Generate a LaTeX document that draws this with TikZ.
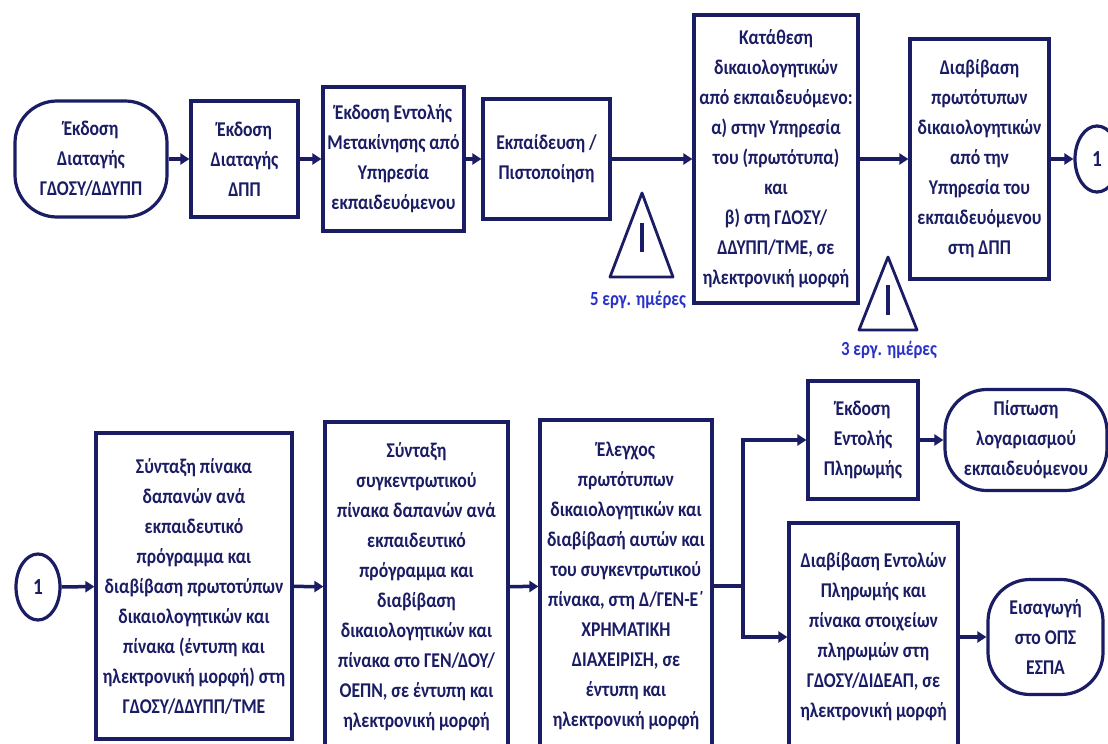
\documentclass[tikz,border=0pt]{standalone}
\usepackage{fontspec}
\setmainfont[FakeStretch=0.84]{Carlito}
\usetikzlibrary{arrows.meta,shapes.geometric}
\definecolor{navy}{RGB}{26,28,100}
\definecolor{dayblue}{RGB}{40,50,200}

\begin{document}
\begin{tikzpicture}[x=1pt,y=-1pt,
  box/.style={draw=navy, line width=3.2pt, fill=white, text=navy, align=center,
    inner sep=0pt, font=\bfseries\fontsize{21}{30}\selectfont},
  term/.style={box, rounded corners=42pt},
  conn/.style={box, ellipse, minimum width=44pt, minimum height=66pt,
    font=\bfseries\fontsize{23}{26}\selectfont},
  flow/.style={navy, line width=3.5pt, -{Triangle[length=9pt,width=11pt]}},
  warn/.style={navy, line width=2.8pt, line join=round},
  days/.style={text=dayblue, font=\bfseries\fontsize{20}{22}\selectfont}]

\fill[white] (0,0) rectangle (1108,744);
\useasboundingbox (0,0) rectangle (1108,744);

\node[term, minimum width=152pt, minimum height=116pt] (diat) at (91,159)
  {Έκδοση\\Διαταγής\\ΓΔΟΣΥ/ΔΔΥΠΠ};
\node[box, minimum width=107pt, minimum height=116pt] (dpp) at (244.5,159)
  {Έκδοση\\Διαταγής\\ΔΠΠ};
\node[box, minimum width=141pt, minimum height=144pt] (entoli) at (393.5,159)
  {Έκδοση Εντολής\\Μετακίνησης από\\Υπηρεσία\\εκπαιδευόμενου};
\node[box, minimum width=127pt, minimum height=120pt] (ekp) at (546.5,159)
  {Εκπαίδευση /\\Πιστοποίηση};
\node[box, minimum width=164pt, minimum height=288pt] (katath) at (776,159)
  {Κατάθεση\\δικαιολογητικών\\από εκπαιδευόμενο:\\α) στην Υπηρεσία\\του (πρωτότυπα)\\και\\β) στη ΓΔΟΣΥ/\\ΔΔΥΠΠ/ΤΜΕ, σε\\ηλεκτρονική μορφή};
\node[box, minimum width=139pt, minimum height=240pt] (diavib) at (979.5,159)
  {Διαβίβαση\\πρωτότυπων\\δικαιολογητικών\\από την\\Υπηρεσία του\\εκπαιδευόμενου\\στη ΔΠΠ};
\node[conn] (ena) at (1097,159) {1};

\draw[flow] (diat) -- (dpp);
\draw[flow] (dpp) -- (entoli);
\draw[flow] (entoli) -- (ekp);
\draw[flow] (ekp) -- (katath);
\draw[flow] (katath) -- (diavib);
\draw[flow] (diavib) -- (ena);

\draw[warn] (642,193) -- (673,277) -- (610,277) -- cycle;
\draw[navy, line width=4pt] (642,223) -- (642,252);
\node[days] (pente) at (638,300) {5 εργ. ημέρες};
\draw[warn] (888,257) -- (917,330) -- (859,330) -- cycle;
\draw[navy, line width=4pt] (888,285) -- (888,315);
\node[days] (tria) at (889,350) {3 εργ. ημέρες};

\node[conn] (enaB) at (38,587) {1};
\node[box, minimum width=196pt, minimum height=306pt] (syntaxi) at (194,586)
  {Σύνταξη πίνακα\\δαπανών ανά\\εκπαιδευτικό\\πρόγραμμα και\\διαβίβαση πρωτοτύπων\\δικαιολογητικών και\\πίνακα (έντυπη και\\ηλεκτρονική μορφή) στη\\ΓΔΟΣΥ/ΔΔΥΠΠ/ΤΜΕ};
\node[box, minimum width=183pt, minimum height=330pt] (synk) at (416.5,587)
  {Σύνταξη\\συγκεντρωτικού\\πίνακα δαπανών ανά\\εκπαιδευτικό\\πρόγραμμα και\\διαβίβαση\\δικαιολογητικών και\\πίνακα στο ΓΕΝ/ΔΟΥ/\\ΟΕΠΝ, σε έντυπη και\\ηλεκτρονική μορφή};
\node[box, minimum width=172pt, minimum height=332pt] (elegx) at (626,586)
  {Έλεγχος\\πρωτότυπων\\δικαιολογητικών και\\διαβίβασή αυτών και\\του συγκεντρωτικού\\πίνακα, στη Δ/ΓΕΝ-Ε΄\\ΧΡΗΜΑΤΙΚΗ\\ΔΙΑΧΕΙΡΙΣΗ, σε\\έντυπη και\\ηλεκτρονική μορφή};
\node[box, minimum width=110pt, minimum height=118pt] (plir) at (863,440)
  {Έκδοση\\Εντολής\\Πληρωμής};
\node[term, minimum width=162pt, minimum height=101pt] (pist) at (1026,440)
  {Πίστωση\\λογαριασμού\\εκπαιδευόμενου};
\node[box, minimum width=169pt, minimum height=228pt] (entolon) at (873.5,637)
  {Διαβίβαση Εντολών\\Πληρωμής και\\πίνακα στοιχείων\\πληρωμών στη\\ΓΔΟΣΥ/ΔΙΔΕΑΠ, σε\\ηλεκτρονική μορφή};
\node[term, minimum width=115pt, minimum height=115pt] (ops) at (1045.5,637)
  {Εισαγωγή\\στο ΟΠΣ\\ΕΣΠΑ};
\coordinate (split) at (743,586);

\draw[flow] (enaB) -- (syntaxi);
\draw[flow] (syntaxi) -- (synk);
\draw[flow] (synk) -- (elegx);
\draw[navy, line width=3.5pt] (elegx) -- (split);
\draw[flow] (split) |- (plir);
\draw[flow] (split) |- (entolon);
\draw[flow] (plir) -- (pist);
\draw[flow] (entolon) -- (ops);
\end{tikzpicture}
\end{document}
